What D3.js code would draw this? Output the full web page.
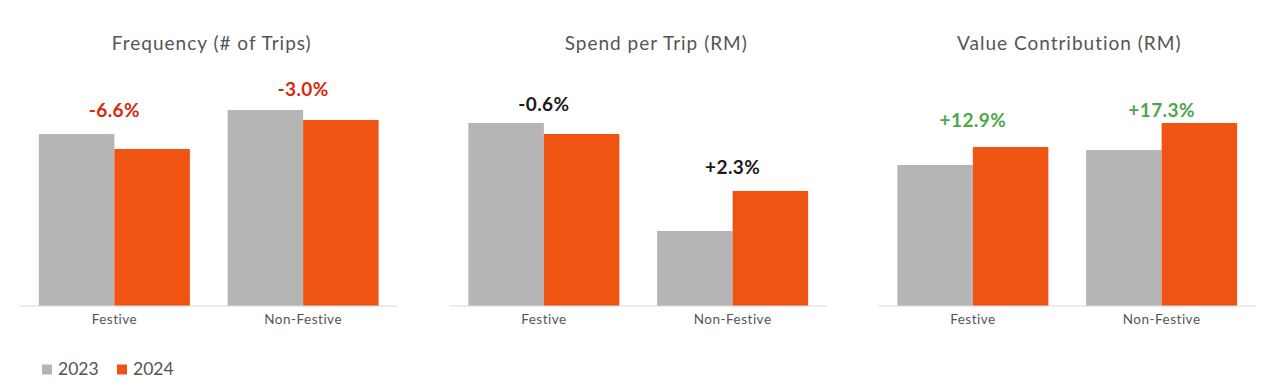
<!DOCTYPE html>
<html>
<head>
<meta charset="utf-8">
<script src="https://cdn.jsdelivr.net/npm/d3@7"></script>
<style>
  html, body { margin: 0; padding: 0; background: #fff; }
  svg { display: block; }
  text { font-family: Lato, "Open Sans", sans-serif; }
</style>
</head>
<body>
<svg id="chart" width="1284" height="392"></svg>
<script>
// ---- Data (index units, same scale within each panel) ----
const categories = ["Festive", "Non-Festive"];
const seriesNames = ["2023", "2024"];
const panelTitles = ["Frequency (# of Trips)", "Spend per Trip (RM)", "Value Contribution (RM)"];

const frequency2023 = [172, 196];
const frequency2024 = [157, 186];
const spend2023 = [183, 75];
const spend2024 = [172, 115];
const value2023 = [141, 156];
const value2024 = [159, 183];

const frequencyChange = ["-6.6%", "-3.0%"];
const spendChange = ["-0.6%", "+2.3%"];
const valueChange = ["+12.9%", "+17.3%"];

// ---- Styling ----
const colors = ["#b5b5b5", "#ef5413"];
const labelColors = [
  ["#d42a0c", "#d42a0c"],
  ["#1b1b1b", "#1b1b1b"],
  ["#4aa84b", "#4aa84b"]
];
// extra gaps above tallest bar for the change labels (px)
const labelGap = [[17, 14], [12, 17], [20, 6]];
const titleShift = [3, 18, 2];

const panels = [
  { title: panelTitles[0], s: [frequency2023, frequency2024], labels: frequencyChange },
  { title: panelTitles[1], s: [spend2023, spend2024], labels: spendChange },
  { title: panelTitles[2], s: [value2023, value2024], labels: valueChange }
];

const svg = d3.select("#chart");
const baseY = 306;
const panelLeft = [20, 449.5, 878.5];
const panelW = 377.5;

const y = d3.scaleLinear().domain([0, 200]).range([baseY, baseY - 200]);

panels.forEach((p, i) => {
  const g = svg.append("g");
  const x0 = d3.scaleBand().domain(categories)
    .range([panelLeft[i], panelLeft[i] + panelW]).paddingInner(0.2).paddingOuter(0.1);
  const x1 = d3.scaleBand().domain(seriesNames).range([0, x0.bandwidth()]);

  // title
  g.append("text")
    .attr("x", panelLeft[i] + panelW / 2 + titleShift[i])
    .attr("y", 50)
    .attr("text-anchor", "middle")
    .attr("font-size", 19)
    .attr("letter-spacing", 1)
    .attr("fill", "#555555")
    .text(p.title);

  // bars
  categories.forEach((c, ci) => {
    seriesNames.forEach((sn, si) => {
      const v = p.s[si][ci];
      g.append("rect")
        .attr("x", x0(c) + x1(sn))
        .attr("y", y(v))
        .attr("width", x1.bandwidth())
        .attr("height", baseY - y(v))
        .attr("fill", colors[si]);
    });
    const maxV = Math.max(p.s[0][ci], p.s[1][ci]);
    g.append("text")
      .attr("x", x0(c) + x0.bandwidth() / 2)
      .attr("y", y(maxV) - labelGap[i][ci])
      .attr("text-anchor", "middle")
      .attr("font-size", 19)
      .attr("font-weight", 700)
      .attr("letter-spacing", 0.4)
      .attr("fill", labelColors[i][ci])
      .text(p.labels[ci]);
  });

  // axis
  const axis = d3.axisBottom(x0).tickSize(0).tickPadding(8);
  const ax = g.append("g").attr("transform", `translate(0,${baseY})`).call(axis);
  ax.select(".domain").attr("stroke", "#d9d9d9").attr("stroke-width", 1.2)
    .attr("d", `M${panelLeft[i]},0H${panelLeft[i] + panelW}`);
  ax.selectAll(".tick text")
    .attr("font-family", "Lato, 'Open Sans', sans-serif")
    .attr("font-size", 13.5)
    .attr("letter-spacing", 0.5)
    .attr("fill", "#555555");
});

// legend
const legend = svg.append("g");
const legendX = [42, 117];
seriesNames.forEach((sn, si) => {
  legend.append("rect")
    .attr("x", legendX[si]).attr("y", 364.5)
    .attr("width", 10).attr("height", 10)
    .attr("fill", colors[si]);
  legend.append("text")
    .attr("x", legendX[si] + 16).attr("y", 375)
    .attr("font-size", 17.5)
    .attr("fill", "#555555")
    .text(sn);
});
</script>
</body>
</html>
